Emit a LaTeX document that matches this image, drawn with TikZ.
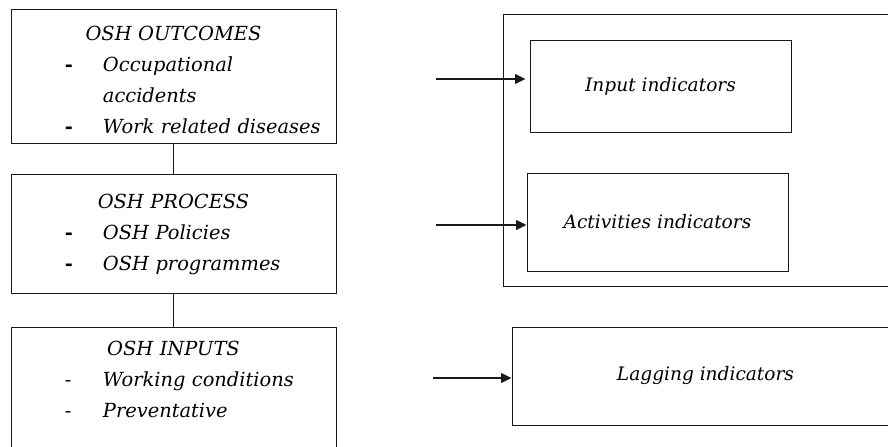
\documentclass[tikz,border=0pt]{standalone}
\usepackage{fontspec}
\setmainfont{DejaVu Serif}
\usetikzlibrary{positioning, arrows.meta}
\definecolor{bline}{HTML}{1A1A1A}

\newcommand{\oshhead}[1]{\makebox[8.125cm][c]{#1}}
\newcommand{\oshitem}[1]{\hspace*{1.35cm}\makebox[0.95cm][l]{\upshape\bfseries-}#1}
\newcommand{\oshthin}[1]{\hspace*{1.35cm}\makebox[0.95cm][l]{\upshape-}#1}
\newcommand{\oshcont}[1]{\hspace*{2.3cm}#1}

\begin{document}
\begin{tikzpicture}[x=0.025cm, y=-0.025cm,
    oshbox/.style={rectangle, draw=bline, line width=0.6pt, text width=8.125cm, inner xsep=0pt, align=left, font=\itshape\fontsize{13.8}{22}\selectfont},
    indbox/.style={rectangle, draw=bline, line width=0.6pt, minimum width=6.525cm, minimum height=2.3cm, font=\itshape\fontsize{13.2}{15}\selectfont},
    link/.style={line width=0.6pt, bline},
    arr/.style={-{Triangle[length=2.6mm, width=2.4mm]}, line width=1.2pt, bline},
]
\useasboundingbox (0,0) rectangle (888,447);
\clip (0,0) rectangle (888,447);

% OSH column
\node[oshbox, minimum height=3.35cm] (outcomes) at (173.5,76) {\oshhead{\rule{0pt}{16pt}OSH OUTCOMES}\\ \oshitem{Occupational}\\ \oshcont{accidents}\\ \oshitem{Work related diseases}};
\node[oshbox, minimum height=2.975cm, below=0.775cm of outcomes] (process) {\oshhead{OSH PROCESS}\\ \oshitem{OSH Policies}\\ \oshitem{OSH programmes}};
\node[oshbox, inner ysep=0.34cm, below=0.825cm of process] (inputs) {\oshhead{OSH INPUTS}\\ \oshthin{Working conditions}\\ \oshthin{Preventative}\rule[-2cm]{0pt}{0pt}};

\draw[link] (outcomes) -- (process);
\draw[link] (process) -- (inputs);

% Indicators
\node[rectangle, draw=bline, line width=0.6pt, minimum width=9.75cm, minimum height=6.8cm] (leadframe) at (698,150) {};
\node[indbox] (inputind) at (660.5,86) {Input indicators};
\node[indbox, minimum height=2.45cm] (actind) at (657.5,222) {Activities indicators};
\node[indbox, minimum width=9.675cm, minimum height=2.45cm] (lagind) at (705.5,376) {Lagging indicators};

% Arrows
\coordinate (inputsrc) at (436,79);
\coordinate (actsrc) at (436,225);
\coordinate (lagsrc) at (433,378);
\draw[arr, shorten >=0.1cm] (inputsrc) -- (inputsrc -| inputind.west);
\draw[arr] (actsrc) -- (actsrc -| actind.west);
\draw[arr] (lagsrc) -- (lagsrc -| lagind.west);

\end{tikzpicture}
\end{document}
